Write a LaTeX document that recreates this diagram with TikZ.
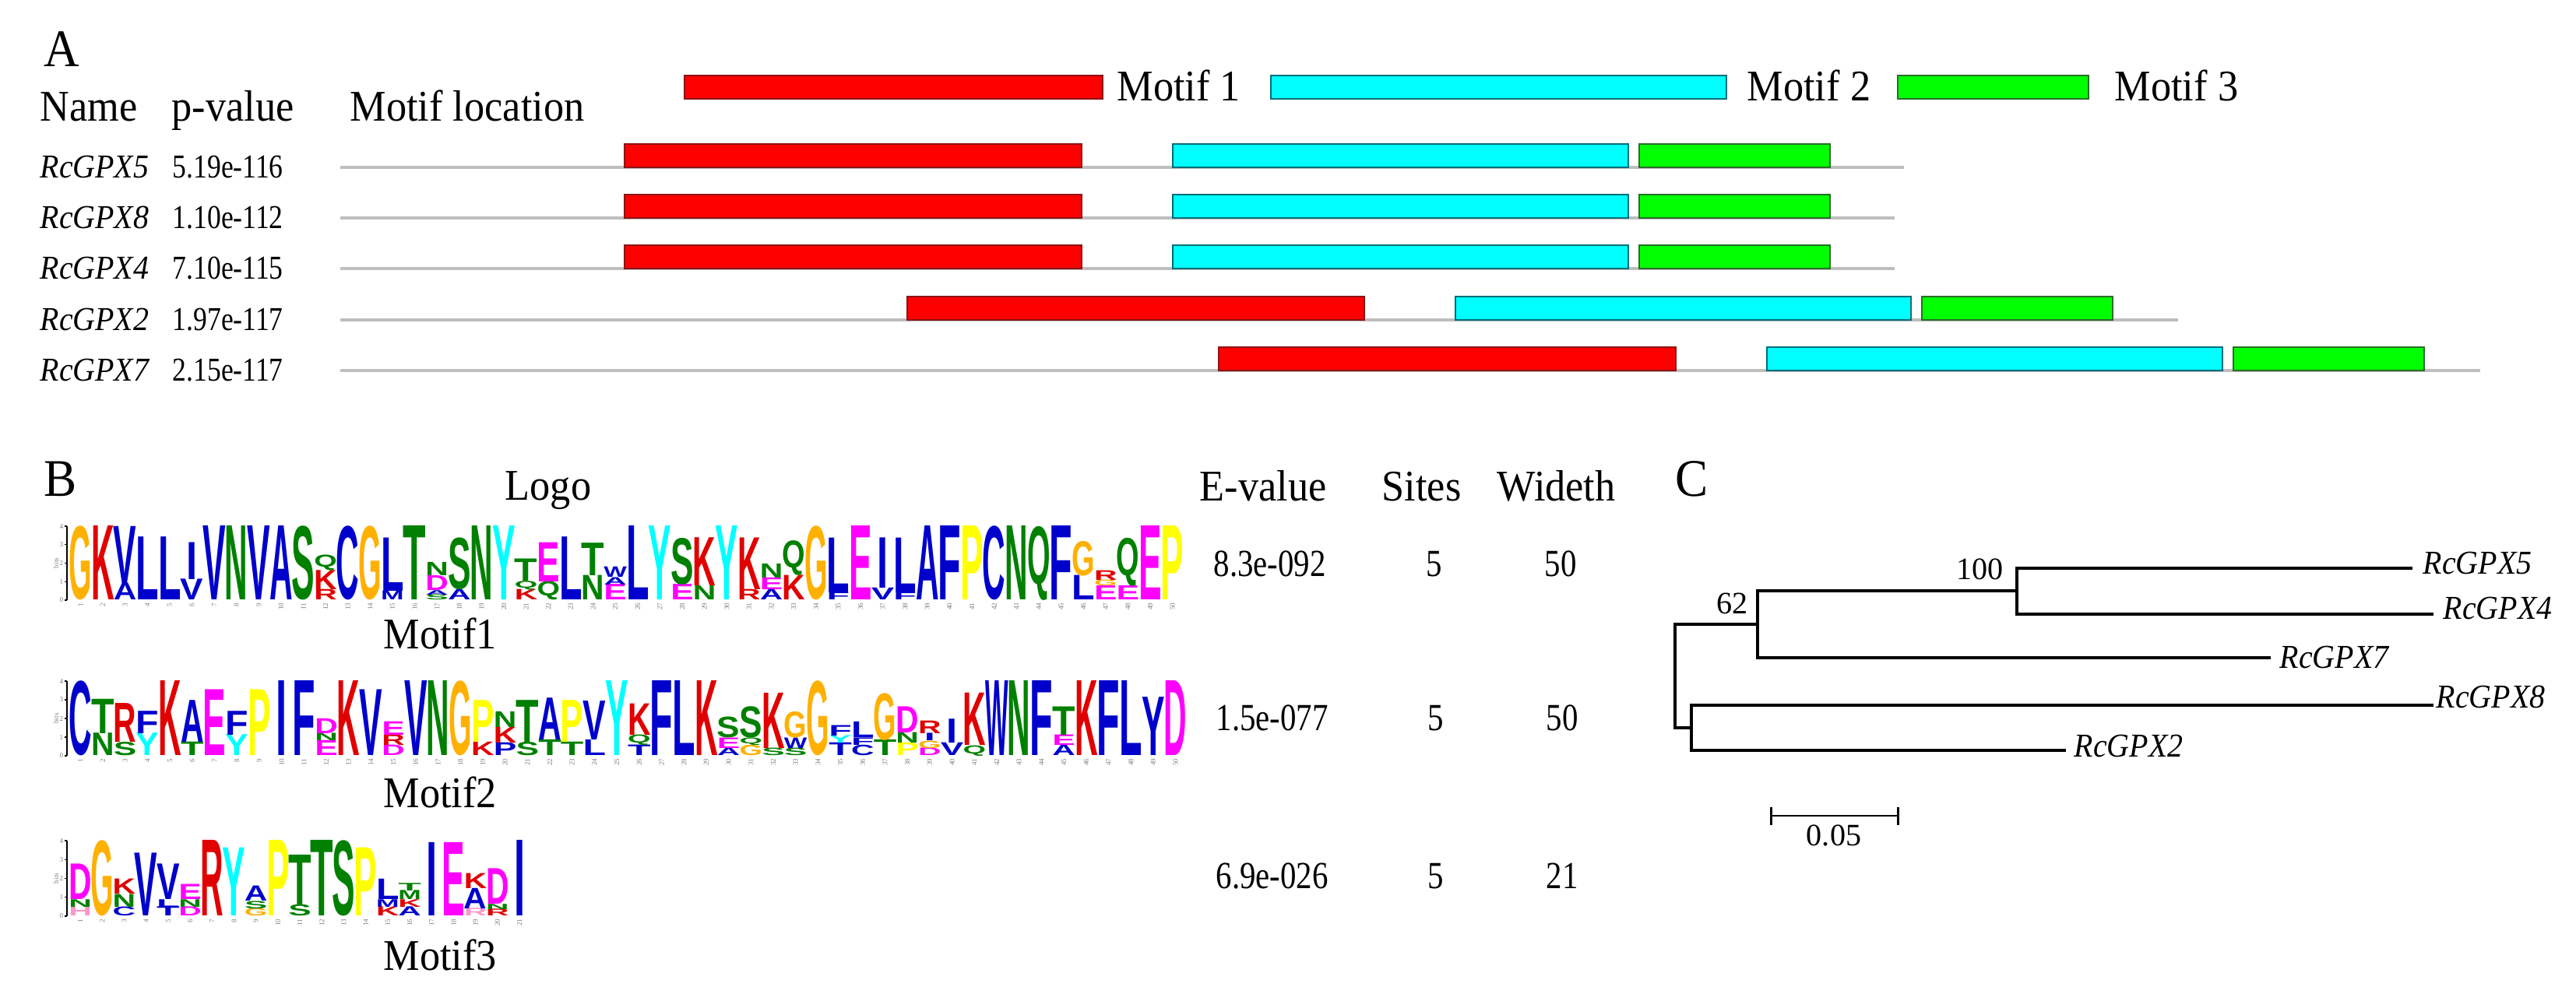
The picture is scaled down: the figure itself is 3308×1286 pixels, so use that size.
\documentclass[tikz,border=0pt]{standalone}
\usepackage{fontspec}
\usepackage{graphicx}
\setmainfont{Liberation Serif}
\newfontfamily\lsf[FakeStretch=0.93]{Liberation Serif}
\newfontfamily\lsn[FakeStretch=0.83]{Liberation Serif}
\newfontfamily\logofont{Liberation Sans}
\definecolor{lblu}{RGB}{0,0,204}
\definecolor{lred}{RGB}{224,0,0}
\definecolor{lgrn}{RGB}{0,128,0}
\definecolor{lorg}{RGB}{255,176,0}
\definecolor{lmag}{RGB}{255,0,255}
\definecolor{lyel}{RGB}{255,255,0}
\definecolor{lcya}{RGB}{0,255,255}
\definecolor{lpnk}{RGB}{255,150,200}
\definecolor{seqgray}{RGB}{190,190,190}
\definecolor{mafill}{RGB}{255,0,0}
\definecolor{maedge}{RGB}{140,20,20}
\definecolor{mbfill}{RGB}{0,255,255}
\definecolor{mbedge}{RGB}{0,110,120}
\definecolor{mcfill}{RGB}{0,255,0}
\definecolor{mcedge}{RGB}{40,110,40}
\newcount\lgcnt
\def\letI{I}
\newcommand\lcol[6]{%
  \gdef\cury{0}%
  \foreach \lgL/\lgC/\lgH in {#6}{%
    \pgfmathsetmacro\lx{#1+(#5-0.5)*#2}%
    \pgfmathsetmacro\ly{#3-\cury*#4}%
    \pgfmathsetmacro\lh{\lgH*#4*0.28453}%
    \edef\tmpL{\lgL}%
    \ifx\tmpL\letI\def\lw{4pt}\else\def\lw{8.4pt}\fi
    \global\advance\lgcnt by 1
    \node[inner sep=0pt, outer sep=0pt, anchor=south] (lg\the\lgcnt) at (\lx,\ly) {\resizebox*{\lw}{\lh pt}{\logofont\bfseries\color{\lgC}\lgL}};
    \pgfmathsetmacro\tmp{\cury+\lgH}\xdef\cury{\tmp}%
  }%
}
\newcommand\La[2]{\lcol{89}{28.62}{771}{95}{#1}{#2}}
\newcommand\Lb[2]{\lcol{89}{28.7}{971}{96}{#1}{#2}}
\newcommand\Lc[2]{\lcol{89}{28.2}{1177}{97}{#1}{#2}}
\newcommand\logoaxis[5]{% id, baseline, height, ncols, pitch
  \draw[line width=0.4pt] (86,#2) -- (86,{#2-#3});
  \foreach \k in {0,...,4}{%
    \draw[line width=0.3pt] (83,{#2-\k*#3/4}) -- (86,{#2-\k*#3/4});
    \node[axlab] (ax#1\k) at (82,{#2-\k*#3/4}) {\k};}
  \node[bitslab] (bits#1) at (72,{#2-#3/2}) {bits};
  \foreach \i in {1,...,#4}{\node[posnum] (pos#1\i) at ({89+(\i-0.5)*#5},{#2+3}) {\i};}
}
\newcommand\seqrow[6]{% id, y, name, pval, offset, line end
  \node[gname] (n#1) at (51,{#2+14}) {#3};
  \node[pval] (p#1) at (221,{#2+14}) {#4};
  \draw[seqline] (437,#2) -- (#6,#2);
  \draw[ma] ({802+#5},{#2-30}) rectangle ({1389+#5},#2);
  \draw[mb] ({1506+#5},{#2-30}) rectangle ({2091+#5},#2);
  \draw[mc] ({2105+#5},{#2-30}) rectangle ({2350+#5},#2);
}
\tikzset{
  hdr/.style={anchor=base west, inner sep=0pt, font=\lsf\fontsize{16}{18}\selectfont},
  panel/.style={anchor=base west, inner sep=0pt, font=\lsf\fontsize{19.3}{22}\selectfont},
  gname/.style={anchor=base west, inner sep=0pt, font=\lsf\itshape\fontsize{12.2}{14}\selectfont},
  pval/.style={anchor=base west, inner sep=0pt, font=\lsn\fontsize{12.2}{14}\selectfont},
  tval/.style={anchor=base west, inner sep=0pt, font=\lsn\fontsize{14}{16}\selectfont},
  tnum/.style={anchor=base west, inner sep=0pt, font=\fontsize{11.4}{13}\selectfont},
  axlab/.style={anchor=east, inner sep=0pt, font=\fontsize{2.6}{3}\selectfont, text=gray},
  bitslab/.style={rotate=90, inner sep=0pt, font=\fontsize{2.6}{3}\selectfont, text=gray},
  posnum/.style={rotate=90, anchor=east, inner sep=0pt, font=\fontsize{2.6}{3}\selectfont, text=gray},
  seqline/.style={draw=seqgray, line width=1.1pt},
  ma/.style={draw=maedge, fill=mafill, line width=0.6pt},
  mb/.style={draw=mbedge, fill=mbfill, line width=0.6pt},
  mc/.style={draw=mcedge, fill=mcfill, line width=0.6pt},
  branch/.style={line width=1.4pt},
}
\begin{document}
\begin{tikzpicture}[x=0.01cm,y=-0.01cm]
\useasboundingbox[fill=white] (0,0) rectangle (3308,1286);
% ---------------- Panel A
\node[panel] (A) at (56,86) {A};
\node[hdr] (hName) at (51,156) {Name};
\node[hdr] (hP) at (220,156) {p-value};
\node[hdr] (hLoc) at (449,156) {Motif location};
\draw[ma] (879,97) rectangle (1416,127);
\node[hdr] (leg1) at (1434,130) {Motif 1};
\draw[mb] (1632,97) rectangle (2217,127);
\node[hdr] (leg2) at (2243,130) {Motif 2};
\draw[mc] (2437,97) rectangle (2682,127);
\node[hdr] (leg3) at (2715,130) {Motif 3};
\seqrow{5}{215}{RcGPX5}{5.19e-116}{0}{2445}
\seqrow{8}{280}{RcGPX8}{1.10e-112}{0}{2433}
\seqrow{4}{345}{RcGPX4}{7.10e-115}{0}{2433}
\seqrow{2}{411}{RcGPX2}{1.97e-117}{363}{2797}
\seqrow{7}{476}{RcGPX7}{2.15e-117}{763}{3185}
% ---------------- Panel B
\node[panel] (B) at (56,638) {B};
\node[hdr] (hLogo) at (648,643) {Logo};
\node[hdr] (hE) at (1540,644) {E-value};
\node[hdr] (hS) at (1774,644) {Sites};
\node[hdr] (hW) at (1922,644) {Wideth};
\node[tval] (e1) at (1558,741) {8.3e-092};
\node[tval] (s1) at (1831,741) {5};
\node[tval] (w1) at (1983,741) {50};
\node[tval] (e2) at (1561,939) {1.5e-077};
\node[tval] (s2) at (1833,939) {5};
\node[tval] (w2) at (1985,939) {50};
\node[tval] (e3) at (1561,1142) {6.9e-026};
\node[tval] (s3) at (1833,1142) {5};
\node[tval] (w3) at (1985,1142) {21};
\node[hdr] (mt1) at (492,834) {Motif1};
\node[hdr] (mt2) at (492,1038) {Motif2};
\node[hdr] (mt3) at (492,1247) {Motif3};
\logoaxis{a}{771}{95}{50}{28.62}
\logoaxis{b}{971}{96}{50}{28.7}
\logoaxis{c}{1177}{97}{21}{28.2}
% logo 1
\La{1}{G/lorg/1}
\La{2}{K/lred/1}
\La{3}{A/lblu/0.23, V/lblu/0.77}
\La{4}{L/lblu/0.85}
\La{5}{L/lblu/0.85}
\La{6}{V/lblu/0.28, I/lblu/0.5}
\La{7}{V/lblu/1}
\La{8}{N/lgrn/1}
\La{9}{V/lblu/1}
\La{10}{A/lblu/1}
\La{11}{S/lgrn/1}
\La{12}{R/lred/0.14, K/lred/0.26, Q/lgrn/0.21}
\La{13}{C/lblu/1}
\La{14}{G/lorg/1}
\La{15}{M/lblu/0.12, L/lblu/0.72}
\La{16}{T/lgrn/1}
\La{17}{S/lgrn/0.07, A/lblu/0.06, D/lmag/0.2, N/lgrn/0.18}
\La{18}{A/lblu/0.14, S/lgrn/0.7}
\La{19}{N/lgrn/1}
\La{20}{Y/lcya/1}
\La{21}{K/lred/0.14, Q/lgrn/0.12, T/lgrn/0.3}
\La{22}{Q/lgrn/0.25, E/lmag/0.53}
\La{23}{L/lblu/0.85}
\La{24}{N/lgrn/0.33, T/lgrn/0.44}
\La{25}{E/lmag/0.21, A/lblu/0.1, W/lblu/0.14}
\La{26}{L/lblu/1}
\La{27}{Y/lcya/1}
\La{28}{E/lmag/0.21, S/lgrn/0.63}
\La{29}{N/lgrn/0.19, K/lred/0.65}
\La{30}{Y/lcya/1}
\La{31}{R/lred/0.14, K/lred/0.7}
\La{32}{A/lblu/0.14, E/lmag/0.16, N/lgrn/0.19}
\La{33}{K/lred/0.33, Q/lgrn/0.47}
\La{34}{G/lorg/1}
\La{35}{F/lblu/0.1, L/lblu/0.74}
\La{36}{E/lmag/1}
\La{37}{V/lblu/0.16, I/lblu/0.68}
\La{38}{F/lblu/0.1, L/lblu/0.74}
\La{39}{A/lblu/1}
\La{40}{F/lblu/1}
\La{41}{P/lyel/1}
\La{42}{C/lblu/1}
\La{43}{N/lgrn/1}
\La{44}{Q/lgrn/1}
\La{45}{F/lblu/1}
\La{46}{L/lblu/0.33, G/lorg/0.47}
\La{47}{E/lmag/0.19, G/lorg/0.08, R/lred/0.13}
\La{48}{E/lmag/0.19, Q/lgrn/0.65}
\La{49}{E/lmag/1}
\La{50}{P/lyel/1}
% logo 2
\Lb{1}{C/lblu/1}
\Lb{2}{N/lgrn/0.3, T/lgrn/0.46}
\Lb{3}{S/lgrn/0.18, R/lred/0.52}
\Lb{4}{Y/lcya/0.3, F/lblu/0.3}
\Lb{5}{K/lred/1}
\Lb{6}{T/lgrn/0.18, A/lblu/0.56}
\Lb{7}{E/lmag/0.88}
\Lb{8}{Y/lcya/0.28, F/lblu/0.32}
\Lb{9}{P/lyel/0.88}
\Lb{10}{I/lblu/1}
\Lb{11}{F/lblu/1}
\Lb{12}{E/lmag/0.2, N/lgrn/0.1, D/lmag/0.2}
\Lb{13}{K/lred/1}
\Lb{14}{V/lblu/0.88}
\Lb{15}{D/lmag/0.14, R/lred/0.14, E/lmag/0.18}
\Lb{16}{V/lblu/1}
\Lb{17}{N/lgrn/1}
\Lb{18}{G/lorg/1}
\Lb{19}{K/lred/0.18, P/lyel/0.56}
\Lb{20}{P/lblu/0.17, K/lred/0.21, N/lgrn/0.21}
\Lb{21}{S/lgrn/0.18, T/lgrn/0.56}
\Lb{22}{T/lgrn/0.21, A/lblu/0.56}
\Lb{23}{T/lgrn/0.18, P/lyel/0.56}
\Lb{24}{L/lblu/0.21, V/lblu/0.52}
\Lb{25}{Y/lcya/1}
\Lb{26}{T/lblu/0.14, Q/lgrn/0.14, K/lred/0.42}
\Lb{27}{F/lblu/1}
\Lb{28}{L/lblu/1}
\Lb{29}{K/lred/1}
\Lb{30}{A/lblu/0.1, E/lmag/0.14, S/lgrn/0.28}
\Lb{31}{G/lorg/0.14, Q/lgrn/0.1, S/lgrn/0.42}
\Lb{32}{S/lgrn/0.1, K/lred/0.74}
\Lb{33}{S/lgrn/0.1, W/lblu/0.14, G/lorg/0.35}
\Lb{34}{G/lorg/1}
\Lb{35}{T/lblu/0.17, Y/lcya/0.1, F/lblu/0.14}
\Lb{36}{C/lblu/0.14, F/lblu/0.1, L/lblu/0.21}
\Lb{37}{T/lgrn/0.21, G/lorg/0.63}
\Lb{38}{P/lyel/0.17, N/lgrn/0.14, D/lmag/0.35}
\Lb{39}{D/lmag/0.1, G/lorg/0.1, I/lblu/0.1, R/lred/0.17}
\Lb{40}{V/lblu/0.17, I/lblu/0.32}
\Lb{41}{Q/lgrn/0.14, K/lred/0.7}
\Lb{42}{W/lblu/1}
\Lb{43}{N/lgrn/1}
\Lb{44}{F/lblu/1}
\Lb{45}{A/lblu/0.14, E/lmag/0.14, T/lgrn/0.38}
\Lb{46}{K/lred/1}
\Lb{47}{F/lblu/1}
\Lb{48}{L/lblu/1}
\Lb{49}{Y/lblu/0.78}
\Lb{50}{D/lmag/1}
% logo 3
\Lc{1}{H/lpnk/0.12, N/lgrn/0.1, D/lmag/0.47}
\Lc{2}{G/lorg/1}
\Lc{3}{C/lblu/0.12, N/lgrn/0.17, K/lred/0.2}
\Lc{4}{V/lblu/0.83}
\Lc{5}{T/lblu/0.12, L/lblu/0.1, V/lblu/0.47}
\Lc{6}{D/lmag/0.12, N/lgrn/0.1, E/lmag/0.2}
\Lc{7}{R/lred/1}
\Lc{8}{Y/lcya/0.9}
\Lc{9}{G/lorg/0.1, S/lgrn/0.1, A/lblu/0.2}
\Lc{10}{P/lyel/1}
\Lc{11}{S/lgrn/0.15, T/lgrn/0.66}
\Lc{12}{T/lgrn/1}
\Lc{13}{S/lgrn/1}
\Lc{14}{P/lyel/0.9}
\Lc{15}{K/lred/0.12, M/lblu/0.1, L/lblu/0.27}
\Lc{16}{A/lblu/0.12, K/lred/0.1, M/lgrn/0.12, T/lgrn/0.1}
\Lc{17}{I/lblu/0.97}
\Lc{18}{E/lmag/0.97}
\Lc{19}{R/lpnk/0.1, A/lblu/0.27, K/lred/0.2}
\Lc{20}{R/lred/0.09, N/lgrn/0.07, D/lmag/0.47}
\Lc{21}{I/lblu/1}
% ---------------- Panel C
\node[panel] (C) at (2151,638) {C};
\coordinate (rT) at (2151,802);
\coordinate (rB) at (2151,935);
\coordinate (n62M) at (2257,802);
\coordinate (n62T) at (2257,759);
\coordinate (n62B) at (2257,845);
\coordinate (n100M) at (2590,759);
\coordinate (n100T) at (2590,730);
\coordinate (n100B) at (2590,789);
\coordinate (nLM) at (2172,935);
\coordinate (nLT) at (2172,906);
\coordinate (nLB) at (2172,964);
\coordinate (l5) at (3098,730);
\coordinate (l4) at (3125,789);
\coordinate (l7) at (2916,845);
\coordinate (l8) at (3125,906);
\coordinate (l2) at (2653,964);
\draw[branch] (n62M) -- (rT) -- (rB) -- (nLM);
\draw[branch] (n100M) -- (n62T) -- (n62B) -- (l7);
\draw[branch] (l5) -- (n100T) -- (n100B) -- (l4);
\draw[branch] (l8) -- (nLT) -- (nLB) -- (l2);
\node[gname] (t5) at (3111,738) {RcGPX5};
\node[gname] (t4) at (3137,796) {RcGPX4};
\node[gname] (t7) at (2927,859) {RcGPX7};
\node[gname] (t8) at (3128,910) {RcGPX8};
\node[gname] (t2) at (2663,973) {RcGPX2};
\node[tnum] (b100) at (2512,745) {100};
\node[tnum] (b62) at (2204,789) {62};
\coordinate (sbL) at (2274,1048);
\coordinate (sbR) at (2437,1048);
\draw[line width=0.85pt] (sbL) -- (sbR);
\draw[line width=0.85pt] ([yshift=0.11cm]sbL) -- ([yshift=-0.12cm]sbL);
\draw[line width=0.85pt] ([yshift=0.11cm]sbR) -- ([yshift=-0.12cm]sbR);
\node[tnum, anchor=base] (sb) at (2355,1087) {0.05};
\end{tikzpicture}
\end{document}
